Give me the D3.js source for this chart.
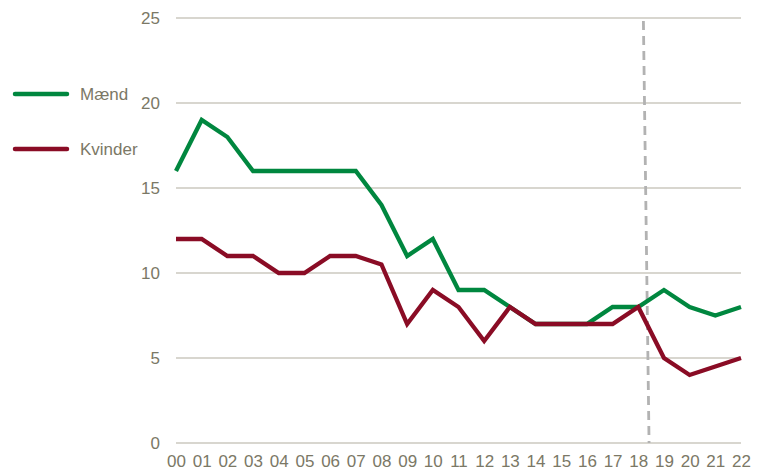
<!DOCTYPE html>
<html>
<head>
<meta charset="utf-8">
<script src="https://cdn.jsdelivr.net/npm/d3@7"></script>
<style>
  html, body { margin: 0; padding: 0; background: #fff; }
  svg text { font-family: "Liberation Sans Narrow", "Arial Narrow", "Liberation Sans", sans-serif; fill: #7b7866; }
</style>
</head>
<body>
<svg id="chart" width="760" height="475"></svg>
<script>
// Years (two-digit labels) and the two series
const years = ["00","01","02","03","04","05","06","07","08","09","10","11","12","13","14","15","16","17","18","19","20","21","22"];
const maend   = [16, 19, 18, 16, 16, 16, 16, 16, 14, 11, 12, 9, 9, 8, 7, 7, 7, 8, 8, 9, 8, 7.5, 8];
const kvinder = [12, 12, 11, 11, 10, 10, 11, 11, 10.5, 7, 9, 8, 6, 8, 7, 7, 7, 7, 8, 5, 4, 4.5, 5];
const yTicks = [0, 5, 10, 15, 20, 25];
// Break marker between 18 and 19 (index positions at top and bottom)
const breakLine = [18.2, 18.42];

const series = [
  { name: "Mænd",    values: maend,   color: "#00873f" },
  { name: "Kvinder", values: kvinder, color: "#8a0c25" }
];

const svg = d3.select("#chart");
const plotLeft = 176, plotRight = 741, plotTop = 18, plotBottom = 443;
const fontStack = '"Liberation Sans Narrow", "Arial Narrow", sans-serif';

const x = d3.scaleLinear().domain([0, years.length - 1]).range([plotLeft, plotRight]);
const y = d3.scaleLinear().domain([0, 25]).range([plotBottom, plotTop]);

// Horizontal gridlines
svg.append("g")
  .selectAll("line")
  .data(yTicks)
  .join("line")
  .attr("x1", plotLeft).attr("x2", plotRight)
  .attr("y1", d => y(d)).attr("y2", d => y(d))
  .attr("stroke", "#cbc9bf").attr("stroke-width", 1.3);

// Y axis labels
const yAxis = svg.append("g")
  .attr("transform", `translate(${plotLeft - 16},0)`)
  .call(d3.axisLeft(y).tickValues(yTicks).tickSize(0).tickPadding(0));
yAxis.select(".domain").remove();
yAxis.selectAll("text")
  .attr("font-size", 17)
  .style("font-family", fontStack)
  .attr("fill", "#7b7866");

// X axis labels
const xAxis = svg.append("g")
  .attr("transform", `translate(0,${plotBottom + 12})`)
  .call(d3.axisBottom(x).tickValues(d3.range(years.length)).tickFormat(i => years[i]).tickSize(0).tickPadding(0));
xAxis.select(".domain").remove();
xAxis.selectAll("text")
  .attr("font-size", 17)
  .style("font-family", fontStack)
  .attr("fill", "#7b7866");

// Dashed break marker
svg.append("line")
  .attr("x1", x(breakLine[0])).attr("y1", y(25) + 3)
  .attr("x2", x(breakLine[1])).attr("y2", y(0))
  .attr("stroke", "#b2b2b2").attr("stroke-width", 2.8)
  .attr("stroke-dasharray", "9,6");

// Series lines
const line = d3.line()
  .x((d, i) => x(i))
  .y(d => y(d));

svg.append("g")
  .selectAll("path")
  .data(series)
  .join("path")
  .attr("d", d => line(d.values))
  .attr("fill", "none")
  .attr("stroke", d => d.color)
  .attr("stroke-width", 4.3)
  .attr("stroke-linejoin", "miter")
  .attr("stroke-linecap", "butt");

// Legend
const legend = svg.append("g")
  .selectAll("g")
  .data(series)
  .join("g")
  .attr("transform", (d, i) => `translate(0,${94 + i * 55})`);
legend.append("line")
  .attr("x1", 15).attr("x2", 67)
  .attr("stroke", d => d.color)
  .attr("stroke-width", 4.5)
  .attr("stroke-linecap", "round");
legend.append("text")
  .attr("x", 80).attr("y", 0)
  .attr("dy", "0.35em")
  .attr("font-size", 17)
  .style("font-family", fontStack)
  .text(d => d.name);
</script>
</body>
</html>
